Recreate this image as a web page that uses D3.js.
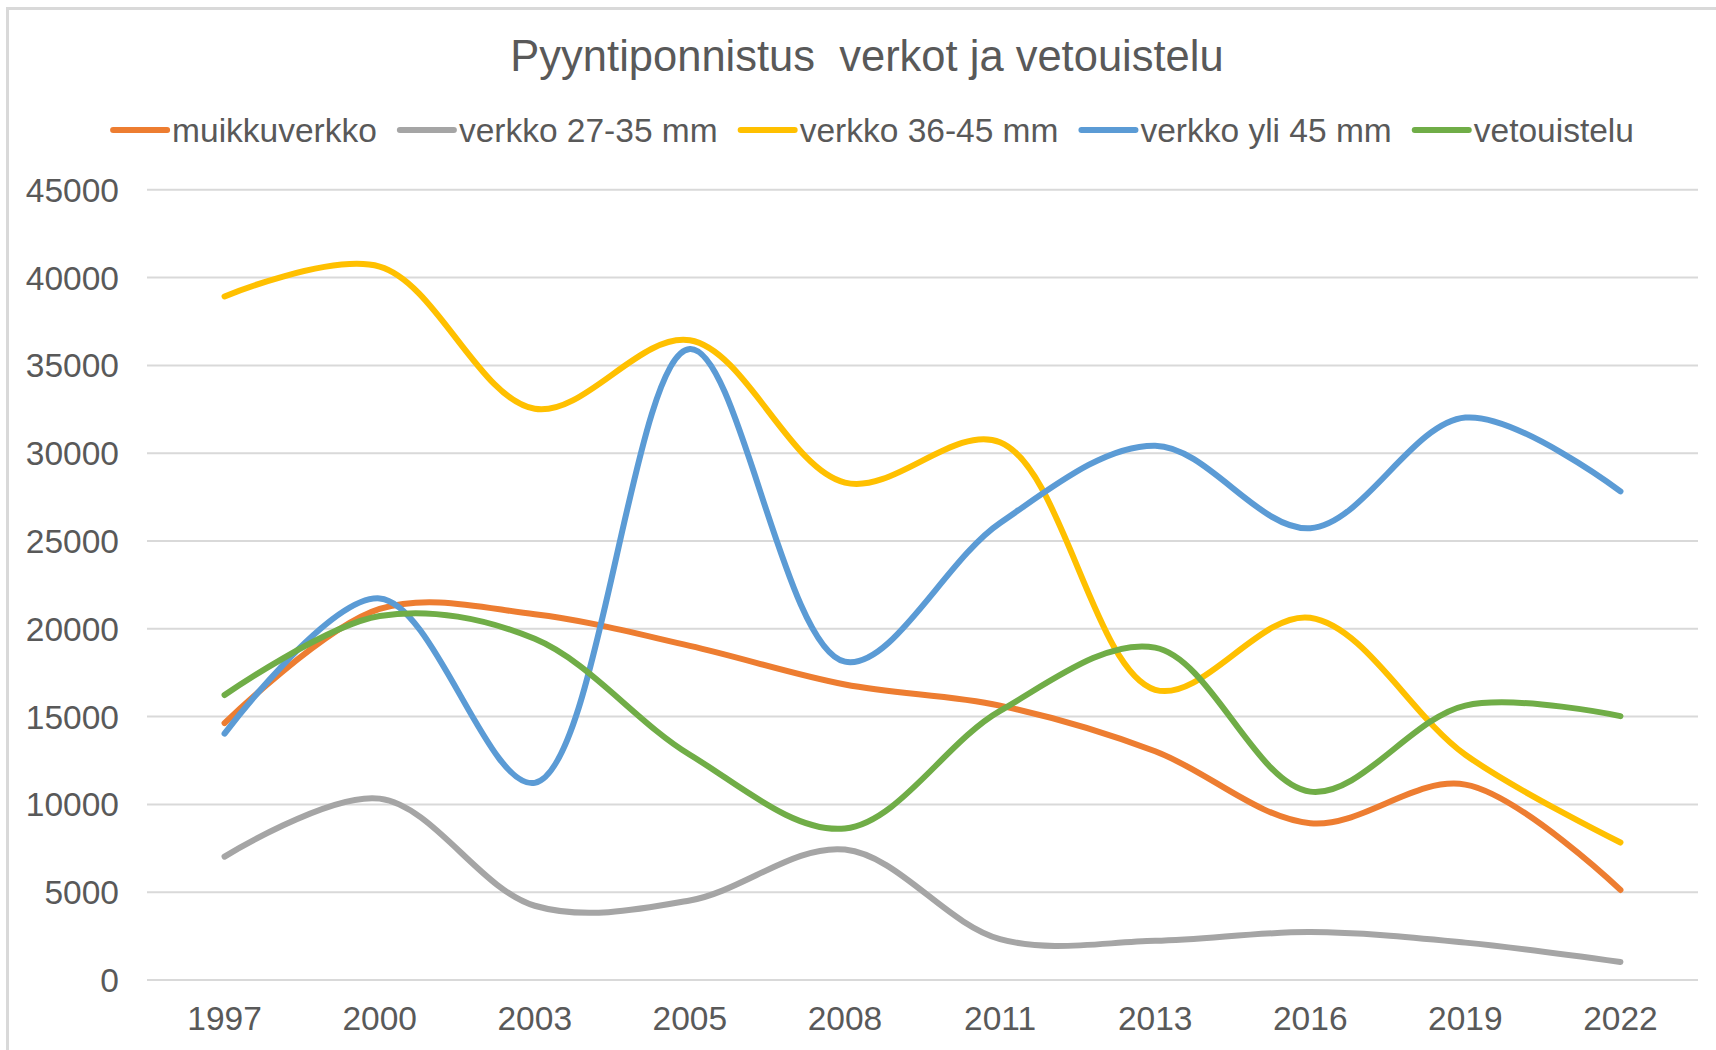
<!DOCTYPE html>
<html>
<head>
<meta charset="utf-8">
<script src="https://cdn.jsdelivr.net/npm/d3@7"></script>
<style>
  html, body { margin: 0; padding: 0; background: #fff; }
  svg { display: block; }
  text { font-family: "Liberation Sans", Arial, sans-serif; fill: #595959; }
</style>
</head>
<body>
<svg id="chart" width="1716" height="1050"></svg>
<script>
const years = ["1997","2000","2003","2005","2008","2011","2013","2016","2019","2022"];
const muikkuverkko = [14600, 21100, 20800, 19000, 16800, 15600, 13000, 8900, 11100, 5100];
const verkko27_35 = [7000, 10300, 4200, 4500, 7400, 2300, 2200, 2700, 2100, 1000];
const verkko36_45 = [38900, 40600, 32500, 36400, 28300, 30600, 16500, 20600, 12800, 7800];
const verkkoYli45 = [14000, 21700, 11200, 35900, 18100, 26000, 30400, 25700, 32000, 27800];
const vetouistelu = [16200, 20700, 19400, 12800, 8600, 15300, 18900, 10700, 15600, 15000];
const seriesNames = ["muikkuverkko", "verkko 27-35 mm", "verkko 36-45 mm", "verkko yli 45 mm", "vetouistelu"];
const seriesColors = ["#ED7D31", "#A5A5A5", "#FFC000", "#5B9BD5", "#70AD47"];
const yTicks = [0, 5000, 10000, 15000, 20000, 25000, 30000, 35000, 40000, 45000];
const titleText = "Pyyntiponnistus\u00A0 verkot ja vetouistelu";

const series = [muikkuverkko, verkko27_35, verkko36_45, verkkoYli45, vetouistelu].map((v, i) => ({
  name: seriesNames[i], color: seriesColors[i], values: v
}));

const svg = d3.select("#chart");

// chart border
svg.append("rect").attr("x", 7.5).attr("y", 8.5).attr("width", 1720).attr("height", 1060)
  .attr("fill", "#fff").attr("stroke", "#d9d9d9").attr("stroke-width", 3);

const plot = { left: 147, right: 1698, top: 189.3, bottom: 979.5 };

const x = d3.scaleBand().domain(years).range([plot.left, plot.right]).padding(0);
const y = d3.scaleLinear().domain([0, 45000]).range([plot.bottom, plot.top]);

// gridlines + y labels
const yAxis = d3.axisLeft(y).tickValues(yTicks).tickSize(-(plot.right - plot.left)).tickPadding(28).tickFormat(d3.format("d"));
const gy = svg.append("g").attr("transform", `translate(${plot.left},0)`).call(yAxis);
gy.select(".domain").remove();
gy.selectAll(".tick line").attr("stroke", "#d9d9d9").attr("stroke-width", 2);
gy.selectAll(".tick text").attr("font-size", 33.5).attr("fill", "#595959")
  .attr("font-family", "Liberation Sans, Arial, sans-serif").attr("dy", "0.36em");

// x axis labels
const xAxis = d3.axisBottom(x).tickSize(0).tickPadding(27);
const gx = svg.append("g").attr("transform", `translate(0,${plot.bottom})`).call(xAxis);
gx.select(".domain").remove();
gx.selectAll(".tick text").attr("font-size", 33.5).attr("fill", "#595959")
  .attr("font-family", "Liberation Sans, Arial, sans-serif");

// lines
const line = d3.line()
  .x((d, i) => x(years[i]) + x.bandwidth() / 2)
  .y(d => y(d))
  .curve(d3.curveCatmullRom.alpha(0.5));

svg.append("g").selectAll("path").data(series).join("path")
  .attr("d", d => line(d.values))
  .attr("fill", "none")
  .attr("stroke", d => d.color)
  .attr("stroke-width", 6)
  .attr("stroke-linecap", "round")
  .attr("stroke-linejoin", "round");

// title
svg.append("text").attr("x", 867).attr("y", 71).attr("text-anchor", "middle")
  .attr("font-size", 43.5).attr("fill", "#595959").text(titleText);

// legend
const lg = svg.append("g");
let cx = 0;
series.forEach((s, i) => {
  const g = lg.append("g").attr("transform", `translate(${cx},0)`);
  g.append("line").attr("x1", 3).attr("x2", 57).attr("y1", 0).attr("y2", 0)
    .attr("stroke", s.color).attr("stroke-width", 6).attr("stroke-linecap", "round");
  const t = g.append("text").attr("x", 62).attr("y", 0).attr("dy", "0.36em")
    .attr("font-size", 33.5).text(s.name);
  cx += 62 + t.node().getComputedTextLength() + 20;
});
const total = cx - 20;
lg.attr("transform", `translate(${872 - total / 2},130)`);
</script>
</body>
</html>
